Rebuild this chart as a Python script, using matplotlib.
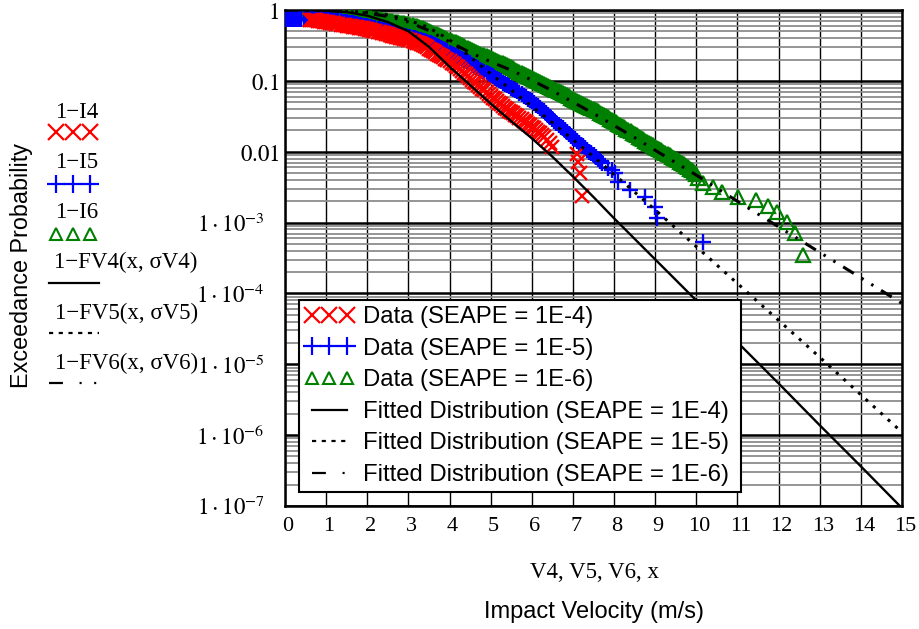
import numpy as np
import matplotlib
matplotlib.use('Agg')
import matplotlib.pyplot as plt
from matplotlib.lines import Line2D
import matplotlib.transforms as mtransforms

plt.rcParams['lines.scale_dashes'] = False
plt.rcParams['mathtext.fontset'] = 'stix'

# ---------------- data (velocity, log10 of exceedance probability) ----------------
# 1-I4 : data, SEAPE = 1E-4 (red x)
v4 = [0.60, 0.65, 0.70, 0.75, 0.80, 0.85, 0.90, 0.95, 1.00, 1.05, 1.10, 1.15, 1.20,
      1.25, 1.30, 1.35, 1.40, 1.45, 1.50, 1.55, 1.60, 1.65, 1.70, 1.75, 1.80, 1.85,
      1.90, 1.95, 2.00, 2.05, 2.10, 2.15, 2.20, 2.25, 2.30, 2.35, 2.40, 2.45, 2.50,
      2.55, 2.60, 2.65, 2.70, 2.75, 2.80, 2.85, 2.90, 2.95, 3.00, 3.05, 3.10, 3.15,
      3.20, 3.25, 3.30, 3.35, 3.40, 3.45, 3.50, 3.55, 3.60, 3.65, 3.70, 3.75, 3.80,
      3.85, 3.90, 3.95, 4.00, 4.05, 4.10, 4.15, 4.20, 4.25, 4.30, 4.35, 4.40, 4.45,
      4.50, 4.55, 4.60, 4.65, 4.70, 4.75, 4.80, 4.85, 4.90, 4.95, 5.00, 5.05, 5.10,
      5.15, 5.20, 5.25, 5.30, 5.35, 5.40, 5.45, 5.50, 5.55, 5.60, 5.65, 5.70, 5.75,
      5.80, 5.85, 5.90, 5.95, 6.00, 6.05, 6.10, 6.15, 6.20, 6.25, 6.30, 6.37, 6.45,
      6.50, 7.10, 7.13, 7.18, 7.23]
lp4 = [-0.140, -0.142, -0.145, -0.147, -0.150, -0.155, -0.160, -0.165, -0.170,
       -0.175, -0.180, -0.185, -0.190, -0.195, -0.200, -0.205, -0.210, -0.215,
       -0.220, -0.225, -0.230, -0.235, -0.240, -0.245, -0.250, -0.255, -0.260,
       -0.265, -0.270, -0.277, -0.285, -0.292, -0.300, -0.307, -0.315, -0.322,
       -0.330, -0.337, -0.345, -0.352, -0.360, -0.367, -0.375, -0.382, -0.390,
       -0.397, -0.405, -0.412, -0.420, -0.430, -0.440, -0.450, -0.460, -0.472,
       -0.485, -0.497, -0.510, -0.527, -0.545, -0.562, -0.580, -0.597, -0.615,
       -0.632, -0.650, -0.667, -0.685, -0.702, -0.720, -0.742, -0.765, -0.787,
       -0.810, -0.835, -0.860, -0.885, -0.910, -0.935, -0.960, -0.985, -1.010,
       -1.035, -1.060, -1.085, -1.110, -1.135, -1.160, -1.185, -1.210, -1.235,
       -1.260, -1.285, -1.310, -1.332, -1.355, -1.377, -1.400, -1.420, -1.440,
       -1.460, -1.480, -1.500, -1.520, -1.540, -1.560, -1.582, -1.605, -1.627,
       -1.650, -1.672, -1.695, -1.717, -1.740, -1.765, -1.790, -1.830, -1.880,
       -1.930, -2.030, -2.150, -2.300, -2.630]

# 1-I5 : data, SEAPE = 1E-5 (blue +)
v5 = [0.00, 0.05, 0.10, 0.15, 0.20, 0.25, 0.30, 0.35, 0.40, 0.45, 0.50, 0.55, 0.60,
      0.65, 0.70, 0.75, 0.80, 0.85, 0.90, 0.95, 1.00, 1.05, 1.10, 1.15, 1.20, 1.25,
      1.30, 1.35, 1.40, 1.45, 1.50, 1.55, 1.60, 1.65, 1.70, 1.75, 1.80, 1.85, 1.90,
      1.95, 2.00, 2.05, 2.10, 2.15, 2.20, 2.25, 2.30, 2.35, 2.40, 2.45, 2.50, 2.55,
      2.60, 2.65, 2.70, 2.75, 2.80, 2.85, 2.90, 2.95, 3.00, 3.05, 3.10, 3.15, 3.20,
      3.25, 3.30, 3.35, 3.40, 3.45, 3.50, 3.55, 3.60, 3.65, 3.70, 3.75, 3.80, 3.85,
      3.90, 3.95, 4.00, 4.05, 4.10, 4.15, 4.20, 4.25, 4.30, 4.35, 4.40, 4.45, 4.50,
      4.55, 4.60, 4.65, 4.70, 4.75, 4.80, 4.85, 4.90, 4.95, 5.00, 5.05, 5.10, 5.15,
      5.20, 5.25, 5.30, 5.35, 5.40, 5.45, 5.50, 5.55, 5.60, 5.65, 5.70, 5.75, 5.80,
      5.85, 5.90, 5.95, 6.00, 6.05, 6.10, 6.15, 6.20, 6.25, 6.30, 6.35, 6.40, 6.45,
      6.50, 6.55, 6.60, 6.65, 6.70, 6.75, 6.80, 6.85, 6.90, 6.95, 7.00, 7.05, 7.10,
      7.15, 7.20, 7.25, 7.30, 7.35, 7.40, 7.45, 7.50, 7.55, 7.60, 7.65, 7.70, 7.86,
      7.96, 8.03, 8.10, 8.39, 8.76, 9.00, 9.05, 10.15]
lp5 = [-0.120, -0.120, -0.120, -0.120, -0.120, -0.120, -0.120, -0.120, -0.120,
       -0.121, -0.122, -0.123, -0.125, -0.126, -0.127, -0.128, -0.130, -0.131,
       -0.132, -0.133, -0.135, -0.138, -0.141, -0.145, -0.149, -0.153, -0.157,
       -0.162, -0.166, -0.170, -0.175, -0.180, -0.185, -0.190, -0.196, -0.202,
       -0.208, -0.214, -0.220, -0.226, -0.232, -0.238, -0.245, -0.252, -0.259,
       -0.266, -0.273, -0.280, -0.287, -0.294, -0.301, -0.308, -0.315, -0.322,
       -0.330, -0.338, -0.346, -0.354, -0.362, -0.370, -0.378, -0.386, -0.395,
       -0.402, -0.410, -0.417, -0.425, -0.432, -0.440, -0.450, -0.460, -0.470,
       -0.480, -0.492, -0.505, -0.517, -0.530, -0.547, -0.565, -0.582, -0.600,
       -0.615, -0.630, -0.645, -0.660, -0.675, -0.690, -0.705, -0.720, -0.737,
       -0.755, -0.772, -0.790, -0.807, -0.825, -0.842, -0.860, -0.875, -0.890,
       -0.905, -0.920, -0.937, -0.955, -0.972, -0.990, -1.007, -1.025, -1.042,
       -1.060, -1.077, -1.095, -1.112, -1.130, -1.150, -1.170, -1.190, -1.210,
       -1.230, -1.250, -1.270, -1.290, -1.312, -1.335, -1.357, -1.380, -1.405,
       -1.430, -1.455, -1.480, -1.507, -1.535, -1.562, -1.590, -1.617, -1.645,
       -1.672, -1.700, -1.725, -1.750, -1.775, -1.800, -1.825, -1.850, -1.875,
       -1.900, -1.925, -1.950, -1.975, -2.000, -2.025, -2.050, -2.075, -2.100,
       -2.130, -2.160, -2.230, -2.260, -2.300, -2.430, -2.540, -2.640, -2.780,
       -2.940, -3.270]

# 1-I6 : data, SEAPE = 1E-6 (green triangles)
v6 = [0.00, 0.05, 0.10, 0.15, 0.20, 0.25, 0.30, 0.35, 0.40, 0.45, 0.50, 0.55, 0.60,
      0.65, 0.70, 0.75, 0.80, 0.85, 0.90, 0.95, 1.00, 1.05, 1.10, 1.15, 1.20, 1.25,
      1.30, 1.35, 1.40, 1.45, 1.50, 1.55, 1.60, 1.65, 1.70, 1.75, 1.80, 1.85, 1.90,
      1.95, 2.00, 2.05, 2.10, 2.15, 2.20, 2.25, 2.30, 2.35, 2.40, 2.45, 2.50, 2.55,
      2.60, 2.65, 2.70, 2.75, 2.80, 2.85, 2.90, 2.95, 3.00, 3.05, 3.10, 3.15, 3.20,
      3.25, 3.30, 3.35, 3.40, 3.45, 3.50, 3.55, 3.60, 3.65, 3.70, 3.75, 3.80, 3.85,
      3.90, 3.95, 4.00, 4.05, 4.10, 4.15, 4.20, 4.25, 4.30, 4.35, 4.40, 4.45, 4.50,
      4.55, 4.60, 4.65, 4.70, 4.75, 4.80, 4.85, 4.90, 4.95, 5.00, 5.05, 5.10, 5.15,
      5.20, 5.25, 5.30, 5.35, 5.40, 5.45, 5.50, 5.55, 5.60, 5.65, 5.70, 5.75, 5.80,
      5.85, 5.90, 5.95, 6.00, 6.05, 6.10, 6.15, 6.20, 6.25, 6.30, 6.35, 6.40, 6.45,
      6.50, 6.55, 6.60, 6.65, 6.70, 6.75, 6.80, 6.85, 6.90, 6.95, 7.00, 7.05, 7.10,
      7.15, 7.20, 7.25, 7.30, 7.35, 7.40, 7.45, 7.50, 7.55, 7.60, 7.65, 7.70, 7.75,
      7.80, 7.85, 7.90, 7.95, 8.00, 8.05, 8.10, 8.15, 8.20, 8.25, 8.30, 8.35, 8.40,
      8.45, 8.50, 8.55, 8.60, 8.65, 8.70, 8.75, 8.80, 8.85, 8.90, 8.95, 9.00, 9.05,
      9.10, 9.15, 9.20, 9.25, 9.30, 9.35, 9.40, 9.45, 9.50, 9.55, 9.60, 9.65, 9.70,
      9.75, 9.80, 9.85, 9.90, 9.95, 10.00, 10.05, 10.17, 10.41, 10.63, 11.02, 11.44,
      11.75, 11.97, 12.21, 12.41, 12.60]
lp6 = [-0.040, -0.040, -0.040, -0.040, -0.040, -0.040, -0.040, -0.040, -0.040,
       -0.041, -0.042, -0.043, -0.045, -0.046, -0.047, -0.048, -0.050, -0.051,
       -0.052, -0.053, -0.055, -0.057, -0.060, -0.062, -0.065, -0.067, -0.070,
       -0.072, -0.075, -0.077, -0.080, -0.082, -0.085, -0.087, -0.090, -0.092,
       -0.095, -0.097, -0.100, -0.105, -0.110, -0.113, -0.117, -0.121, -0.125,
       -0.128, -0.132, -0.136, -0.140, -0.145, -0.150, -0.155, -0.160, -0.165,
       -0.170, -0.175, -0.180, -0.185, -0.190, -0.195, -0.200, -0.207, -0.215,
       -0.222, -0.230, -0.240, -0.250, -0.260, -0.270, -0.282, -0.295, -0.307,
       -0.320, -0.332, -0.345, -0.357, -0.370, -0.382, -0.395, -0.407, -0.420,
       -0.432, -0.445, -0.457, -0.470, -0.485, -0.500, -0.515, -0.530, -0.542,
       -0.555, -0.567, -0.580, -0.592, -0.605, -0.617, -0.630, -0.642, -0.655,
       -0.667, -0.680, -0.692, -0.705, -0.717, -0.730, -0.742, -0.755, -0.767,
       -0.780, -0.795, -0.810, -0.825, -0.840, -0.855, -0.870, -0.885, -0.900,
       -0.915, -0.930, -0.945, -0.960, -0.972, -0.985, -0.997, -1.010, -1.025,
       -1.040, -1.055, -1.070, -1.085, -1.100, -1.115, -1.130, -1.145, -1.160,
       -1.175, -1.190, -1.205, -1.220, -1.235, -1.250, -1.265, -1.280, -1.295,
       -1.310, -1.325, -1.340, -1.355, -1.370, -1.385, -1.400, -1.415, -1.430,
       -1.447, -1.465, -1.482, -1.500, -1.517, -1.535, -1.552, -1.570, -1.587,
       -1.605, -1.622, -1.640, -1.657, -1.675, -1.692, -1.710, -1.730, -1.750,
       -1.770, -1.790, -1.807, -1.825, -1.842, -1.860, -1.877, -1.895, -1.912,
       -1.930, -1.947, -1.965, -1.982, -2.000, -2.017, -2.035, -2.052, -2.070,
       -2.087, -2.105, -2.122, -2.140, -2.160, -2.180, -2.200, -2.220, -2.242,
       -2.265, -2.287, -2.310, -2.370, -2.440, -2.500, -2.570, -2.640, -2.680,
       -2.770, -2.850, -2.990, -3.150, -3.460]

# fitted distributions 1-FV(x, sigma)
xf4 = [0, 0.5, 1, 1.5, 2, 2.5, 3, 3.5, 4, 4.5, 5, 5.5, 6, 6.5, 7, 7.5, 8, 9, 10,
       11, 12, 13, 14, 15]
lf4 = [-0.001, -0.003, -0.01, -0.03, -0.08, -0.17, -0.30, -0.52, -0.80, -1.06,
       -1.32, -1.57, -1.81, -2.07, -2.35, -2.64, -2.94, -3.52, -4.10, -4.69, -5.27,
       -5.86, -6.44, -7.03]
xf5 = [0, 0.5, 1, 1.5, 2, 2.5, 3, 3.5, 4, 4.5, 5, 5.5, 6, 6.5, 7, 7.5, 8, 8.5, 9,
       9.5, 10, 11, 12, 13, 14, 15]
lf5 = [-0.001, -0.002, -0.006, -0.015, -0.035, -0.07, -0.14, -0.25, -0.42, -0.66,
       -0.90, -1.13, -1.36, -1.59, -1.83, -2.07, -2.32, -2.57, -2.82, -3.08, -3.34,
       -3.86, -4.38, -4.90, -5.43, -5.96]
xf6 = [0, 0.5, 1, 1.5, 2, 2.5, 3, 3.5, 4, 4.5, 5, 5.5, 6, 6.5, 7, 7.5, 8, 8.5, 9,
       10, 11, 12, 13, 14, 15]
lf6 = [-0.001, -0.003, -0.008, -0.02, -0.045, -0.09, -0.17, -0.29, -0.45, -0.60,
       -0.73, -0.85, -0.99, -1.14, -1.30, -1.46, -1.63, -1.80, -1.98, -2.33, -2.70,
       -3.06, -3.42, -3.78, -4.14]

x_ticks = list(range(16))
y_ticks = [1, 0.1, 0.01, 1e-3, 1e-4, 1e-5, 1e-6, 1e-7]
y_labels = [r'$1$', r'$0.1$', r'$0.01$', r'$1\cdot10^{-3}$', r'$1\cdot10^{-4}$',
            r'$1\cdot10^{-5}$', r'$1\cdot10^{-6}$', r'$1\cdot10^{-7}$']
legend_labels = ['Data (SEAPE = 1E-4) ', 'Data (SEAPE = 1E-5) ', 'Data (SEAPE = 1E-6) ',
                 'Fitted Distribution (SEAPE = 1E-4) ',
                 'Fitted Distribution (SEAPE = 1E-5) ',
                 'Fitted Distribution (SEAPE = 1E-6) ']

RED, BLUE, GREEN = '#ff0000', '#0000ff', '#008000'
DOT = (0, (2.2, 5.0))
DASHDOT = (0, (9, 6.5, 1.8, 6.5, 1.8, 6.5))
LEG_DOT = (0, (3, 4))
LEG_DASHDOT = (0, (10, 12, 1.5, 9, 1.5, 9))
SERIF = 'Liberation Serif'
SANS = 'Liberation Sans'

# ---------------- figure ----------------
W, H = 920, 629
fig = plt.figure(figsize=(W / 100, H / 100), dpi=100)
def fx(px): return px / W
def fy(py): return 1 - py / H

ax = fig.add_axes([fx(285), fy(506), (902 - 285) / W, (506 - 10) / H])
ax.set_yscale('log')
ax.set_xlim(0, 15)
ax.set_ylim(1e-7, 1)
ax.set_xticks(x_ticks)
ax.set_xticklabels([str(t) for t in x_ticks], family=SERIF, fontsize=16)
ax.set_yticks(y_ticks)
ax.set_yticklabels(y_labels, fontsize=16.5)
ax.yaxis.set_minor_locator(matplotlib.ticker.LogLocator(base=10, subs=np.arange(2, 10), numticks=20))
ax.yaxis.set_minor_formatter(matplotlib.ticker.NullFormatter())
ax.tick_params(which='both', length=0)
ax.tick_params(axis='y', pad=4)
ax.tick_params(axis='x', pad=8)
for lab in ax.get_xticklabels():
    lab.set_transform(lab.get_transform() + mtransforms.ScaledTranslation(0.03, 0, fig.dpi_scale_trans))
for lab in ax.get_yticklabels()[3:]:
    lab.set_transform(lab.get_transform() + mtransforms.ScaledTranslation(-0.15, 0, fig.dpi_scale_trans))

ax.grid(which='minor', axis='y', color='#8c8c8c', lw=1.3)
ax.grid(which='major', axis='y', color='black', lw=1.8)
ax.grid(which='major', axis='x', color='black', lw=1.0)
ax.set_axisbelow(True)
for s in ax.spines.values():
    s.set_linewidth(1.8)

# data series
ax.plot(v6, 10 ** np.array(lp6), ls='none', marker='^', ms=9.5, mfc='none', mec=GREEN, mew=1.6, zorder=3)
ax.plot(v5, 10 ** np.array(lp5), ls='none', marker='+', ms=12, mec=BLUE, mew=1.7, zorder=3)
ax.plot(v4, 10 ** np.array(lp4), ls='none', marker='x', ms=9.5, mec=RED, mew=1.7, zorder=3)
ax.plot(xf4, 10 ** np.array(lf4), color='black', lw=1.7, zorder=4)
ax.plot(xf5, 10 ** np.array(lf5), color='black', lw=2.2, ls=DOT, zorder=4)
ax.plot(xf6, 10 ** np.array(lf6), color='black', lw=2.2, ls=DASHDOT, zorder=4)

# legend inside axes
handles = [Line2D([], [], ls='none', marker='x', ms=11, mec=RED, mew=1.6),
           Line2D([], [], ls='none', marker='+', ms=13, mec=BLUE, mew=1.6),
           Line2D([], [], ls='none', marker='^', ms=8, mfc='none', mec=GREEN, mew=1.5),
           Line2D([], [], color='black', lw=1.6),
           Line2D([], [], color='black', lw=1.6, ls=LEG_DOT),
           Line2D([], [], color='black', lw=1.6, ls=LEG_DASHDOT)]
leg = ax.legend(handles, legend_labels, loc='lower left',
                bbox_to_anchor=((299 - 285) / 617, (506 - 492) / 496),
                numpoints=3, prop={'family': SANS, 'size': 17.2}, handlelength=2.05,
                handletextpad=0.36, borderpad=0.25, labelspacing=0.4,
                borderaxespad=0, fancybox=False, edgecolor='black', framealpha=1)
leg.get_frame().set_linewidth(1.5)
leg.set_zorder(6)

# axis titles
fig.text(fx(594), fy(573), 'V4, V5, V6, x', family=SERIF, fontsize=16.5, ha='center', va='center')
fig.text(fx(594), fy(612), 'Impact Velocity (m/s)', family=SANS, fontsize=17, ha='center', va='center')
fig.text(fx(22), fy(265), 'Exceedance Probability', family=SANS, fontsize=16.8, rotation=90,
         ha='center', va='center')

# left trace legend (Mathcad style)
def ftext(px, py, s):
    fig.text(fx(px), fy(py), s, family=SERIF, fontsize=16.5, ha='left', va='center')

def fsym(xs, py, **kw):
    fig.add_artist(Line2D([fx(x) for x in xs], [fy(py)] * len(xs), transform=fig.transFigure, **kw))

ftext(55, 113, '1\u2212I4')
fsym([56.5, 73.5, 90.5], 132, ls='none', marker='x', ms=11, mec=RED, mew=1.6)
ftext(55, 163, '1\u2212I5')
fsym([56.5, 73.5, 90.5], 184, ls='none', marker='+', ms=13, mec=BLUE, mew=1.6)
ftext(55, 213, '1\u2212I6')
fsym([56.5, 73.5, 90.5], 234, ls='none', marker='^', ms=8, mfc='none', mec=GREEN, mew=1.5)
ftext(54, 262, '1\u2212FV4(x, \u03c3V4)')
fsym([49, 99], 283, color='black', lw=1.6)
ftext(55, 313, '1\u2212FV5(x, \u03c3V5)')
fsym([49, 99], 333, color='black', lw=1.6, ls=LEG_DOT)
ftext(55, 363, '1\u2212FV6(x, \u03c3V6)')
fsym([49, 99], 383, color='black', lw=1.6, ls=LEG_DASHDOT)

fig.savefig('out.png', dpi=100)
